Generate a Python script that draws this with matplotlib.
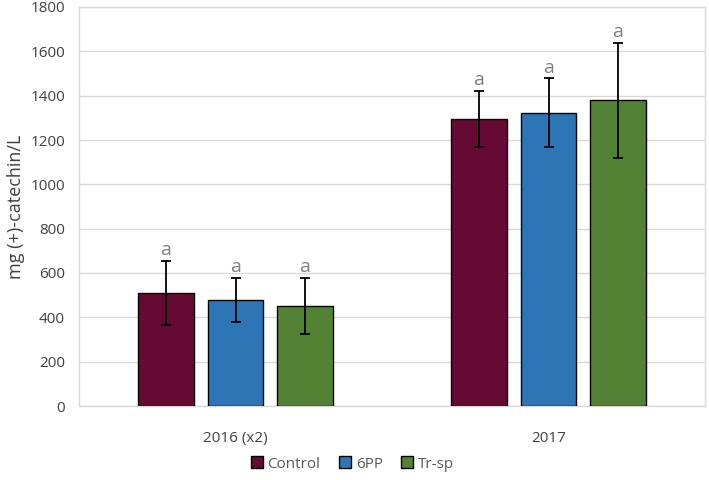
import matplotlib
matplotlib.use("Agg")
import matplotlib.pyplot as plt
import numpy as np

plt.rcParams['font.family'] = ['Open Sans', 'DejaVu Sans']

groups = ["2016 (x2)", "2017"]
series = ["Control", "6PP", "Tr-sp"]
values = {
    "Control": [510, 1295],
    "6PP": [479, 1323],
    "Tr-sp": [451, 1380],
}
errors = {
    "Control": [145, 126],
    "6PP": [100, 155],
    "Tr-sp": [127, 259],
}
letters = {
    "Control": ["a", "a"],
    "6PP": ["a", "a"],
    "Tr-sp": ["a", "a"],
}
colors = {"Control": "#650a33", "6PP": "#2e75b6", "Tr-sp": "#548235"}
yticks = [0, 200, 400, 600, 800, 1000, 1200, 1400, 1600, 1800]

fig = plt.figure(figsize=(7.09, 4.80), dpi=100)
ax = fig.add_axes([79/709, 1-406/480, (705-79)/709, (406-7)/480])

x = np.arange(len(groups))
w = 0.176
step = 0.222
for i, s in enumerate(series):
    xs = x + (i - 1) * step
    ax.bar(xs, values[s], width=w, color=colors[s], edgecolor="black", linewidth=1.0,
           label=s, zorder=3)
    ax.errorbar(xs, values[s], yerr=errors[s], fmt="none", ecolor="black",
                elinewidth=1.3, capsize=3.6, capthick=1.3, zorder=4)
    for xi, v, e, t in zip(xs, values[s], errors[s], letters[s]):
        ax.text(xi, v + e + 8, t, ha="center", va="bottom", fontsize=14,
                color="#7f7f7f")

ax.set_xlim(-0.5, 1.5)
ax.set_ylim(0, 1800)
ax.set_yticks(yticks)
ax.set_xticks(x)
ax.set_xticklabels(groups)
ax.yaxis.grid(True, color="#d9d9d9", linewidth=1, zorder=0)
ax.set_axisbelow(True)
for sp in ax.spines.values():
    sp.set_color("#d9d9d9")
    sp.set_linewidth(1)
ax.tick_params(axis="both", length=0, labelsize=11, colors="#404040")
ax.tick_params(axis="y", pad=10)
ax.tick_params(axis="x", pad=18)
ax.set_ylabel("mg (+)-catechin/L", fontsize=13, color="#404040", labelpad=4)

fig.legend(loc="center", bbox_to_anchor=(0.497, 1-464/480), ncol=3, frameon=False,
           fontsize=11, labelcolor="#595959", handlelength=0.8, handleheight=0.8,
           handletextpad=0.3, columnspacing=1.2)

fig.savefig("out.png", dpi=100)
